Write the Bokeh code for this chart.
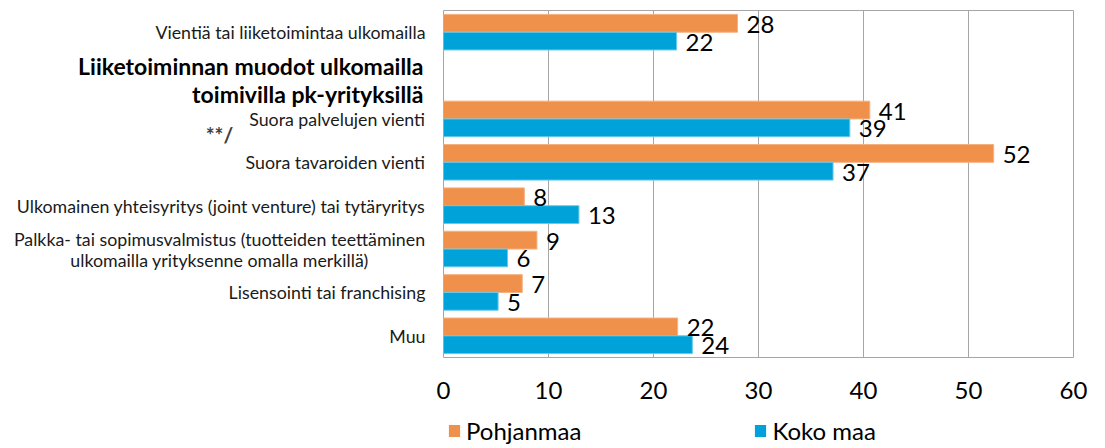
from bokeh.plotting import figure
from bokeh.models import ColumnDataSource, Range1d, FixedTicker, Legend, LegendItem
from bokeh.layouts import row, column
from bokeh.embed import file_html
from bokeh.resources import INLINE
from bokeh.core.properties import value

# ---- data ----
categories = [
    "Vientiä tai liiketoimintaa ulkomailla",
    "",
    "Suora palvelujen vienti",
    "Suora tavaroiden vienti",
    "Ulkomainen yhteisyritys (joint venture) tai tytäryritys",
    "Palkka- tai sopimusvalmistus (tuotteiden teettäminen\nulkomailla yrityksenne omalla merkillä)",
    "Lisensointi tai franchising",
    "Muu",
]
pohjanmaa = [28.0, None, 40.6, 52.4, 7.7, 8.9, 7.5, 22.3]
koko_maa = [22.2, None, 38.7, 37.1, 12.9, 6.1, 5.2, 23.7]
pohjanmaa_labels = ["28", "", "41", "52", "8", "9", "7", "22"]
koko_maa_labels = ["22", "", "39", "37", "13", "6", "5", "24"]
series_names = ["Pohjanmaa", "Koko maa"]
x_ticks = [0, 10, 20, 30, 40, 50, 60]
header_text = "Liiketoiminnan muodot ulkomailla\ntoimivilla pk-yrityksillä"
note_text = "**/"

ORANGE = "#F0914B"
BLUE = "#00A3D9"
FONT = "Lato"
H = 414
TOP = 10
BOTTOM = 57
LW = 433
ML = 10
MW = ML + 630 + 20
n = len(categories)

yr = Range1d(n, 0)

# ---- left label panel ----
lf = figure(width=LW, height=H, x_range=Range1d(0, LW), y_range=yr,
            output_backend="svg", toolbar_location=None,
            min_border_left=0, min_border_right=0, min_border_top=TOP, min_border_bottom=BOTTOM)
lf.axis.visible = False
lf.grid.visible = False
lf.outline_line_color = None

rows_y = [i + 0.5 for i in range(n)]
right_idx = [i for i, c in enumerate(categories) if c and "\n" not in c]
center_idx = [i for i, c in enumerate(categories) if "\n" in c]
lf.text(x=[425] * len(right_idx), y=[rows_y[i] for i in right_idx],
        text=[categories[i] for i in right_idx],
        text_font=value(FONT), text_font_size="17.8px", text_color="#1a1a1a",
        text_align="right", text_baseline="middle")
lf.text(x=[219] * len(center_idx), y=[rows_y[i] for i in center_idx],
        text=[categories[i] for i in center_idx],
        text_font=value(FONT), text_font_size="17.8px", text_color="#1a1a1a",
        text_align="center", text_baseline="middle", text_line_height=0.95)
lf.text(x=[423], y=[1.6], text=[header_text],
        text_font=value(FONT), text_font_size="23px", text_font_style="bold",
        text_color="#000000", text_align="right", text_baseline="middle",
        text_line_height=1.0)
lf.text(x=[219], y=[2.86], text=[note_text],
        text_font=value(FONT), text_font_size="21px", text_font_style="bold",
        text_color="#404040", text_align="center", text_baseline="middle")

# ---- main chart ----
p = figure(width=MW, height=H, x_range=Range1d(0, 60), y_range=yr,
           output_backend="svg", toolbar_location=None,
           min_border_left=ML, min_border_right=20, min_border_top=TOP, min_border_bottom=BOTTOM,
           y_axis_location=None)

oi = [i for i, v in enumerate(pohjanmaa) if v is not None]
bi = [i for i, v in enumerate(koko_maa) if v is not None]
src_o = ColumnDataSource(dict(y=[i + 0.5 - 0.205 for i in oi], v=[pohjanmaa[i] for i in oi],
                              lab=[pohjanmaa_labels[i] for i in oi]))
src_b = ColumnDataSource(dict(y=[i + 0.5 + 0.205 for i in bi], v=[koko_maa[i] for i in bi],
                              lab=[koko_maa_labels[i] for i in bi]))

p.hbar(y="y", left=0, right="v", height=0.41, source=src_o,
       fill_color=ORANGE, line_color="#F5B07E", line_width=1)
p.hbar(y="y", left=0, right="v", height=0.41, source=src_b,
       fill_color=BLUE, line_color="#6CC8E8", line_width=1)

for src in (src_o, src_b):
    p.text(x="v", y="y", text="lab", source=src, x_offset=9, y_offset=1,
           text_font=value(FONT), text_font_size="24px", text_color="#000000",
           text_align="left", text_baseline="middle")

p.xaxis.ticker = FixedTicker(ticks=x_ticks)
p.xaxis.axis_line_color = None
p.xaxis.major_tick_line_color = None
p.xaxis.minor_tick_line_color = None
p.xaxis.major_tick_out = 0
p.xaxis.major_label_standoff = 24
p.xaxis.major_label_text_font = FONT
p.xaxis.major_label_text_font_size = "24px"
p.xaxis.major_label_text_color = "#000000"

p.ygrid.visible = False
p.xgrid.grid_line_color = "#A6A6A6"
p.xgrid.grid_line_width = 1
p.outline_line_color = "#A6A6A6"
p.background_fill_color = "white"
p.border_fill_color = "white"

# ---- legend strip (proxy renderers lie outside the visible range) ----
LH = 34
lg = figure(width=LW + MW, height=LH, x_range=Range1d(0, 1), y_range=Range1d(0, 1),
            output_backend="svg", toolbar_location=None,
            min_border_left=0, min_border_right=0, min_border_top=0, min_border_bottom=0)
lg.axis.visible = False
lg.grid.visible = False
lg.outline_line_color = None
d_o = lg.hbar(y=[-5], left=[0], right=[0], height=0.5, fill_color=ORANGE, line_color=None)
d_b = lg.hbar(y=[-5], left=[0], right=[0], height=0.5, fill_color=BLUE, line_color=None)

legend = Legend(items=[LegendItem(label=series_names[0], renderers=[d_o]),
                       LegendItem(label=series_names[1], renderers=[d_b])],
                orientation="horizontal", location=(447, 3),
                glyph_width=14, glyph_height=15, label_standoff=5, spacing=172,
                padding=0, margin=0, border_line_color=None, background_fill_alpha=0,
                label_text_font=FONT, label_text_font_size="24px", label_text_color="#000000")
lg.add_layout(legend, "center")

layout = column(row(lf, p), lg)
open("out.html", "w").write(file_html(layout, INLINE))
